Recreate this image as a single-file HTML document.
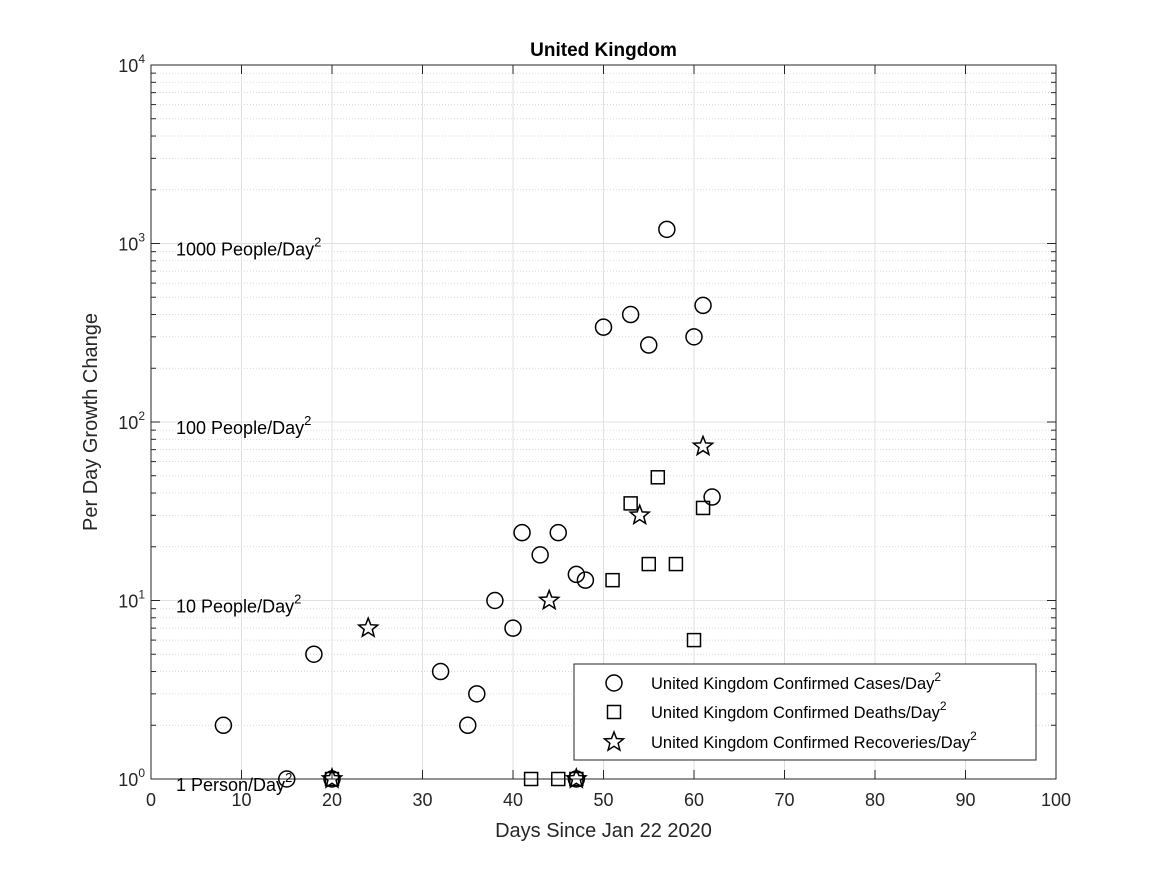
<!DOCTYPE html>
<html><head><meta charset="utf-8"><style>
body{margin:0;background:#fff;}
svg text{font-family:"Liberation Sans",sans-serif;}
</style></head><body>
<svg id="c" width="1167" height="875" xmlns="http://www.w3.org/2000/svg"></svg>
<script>
const casesX=[8,15,18,20,32,35,36,38,40,41,43,45,47,48,50,53,55,57,60,61,62,47];
const casesY=[2,1,5,1,4,2,3,10,7,24,18,24,14,13,340,400,270,1200,300,450,38,1];
const deathsX=[20,42,45,47,51,53,55,56,58,60,61];
const deathsY=[1,1,1,1,13,35,16,49,16,6,33];
const recX=[20,24,44,47,54,61];
const recY=[1,7,10,1,30,73];
const xTicks=[0,10,20,30,40,50,60,70,80,90,100];
const yExps=[0,1,2,3,4];
const annot=[["1 Person/Day",1],["10 People/Day",10],["100 People/Day",100],["1000 People/Day",1000]];
const L=151,R=1056,T=65,B=779;
const sx=v=>L+(v/100)*(R-L);
const sy=v=>B-Math.log10(v)/4*(B-T);
const svg=document.getElementById('c');
const NS="http://www.w3.org/2000/svg";
function el(tag,attrs,parent){const e=document.createElementNS(NS,tag);for(const k in attrs)e.setAttribute(k,attrs[k]);(parent||svg).appendChild(e);return e;}
const grid=el('g',{});


for(let d=0;d<4;d++)for(let m=2;m<10;m++){const y=sy(m*Math.pow(10,d));el('line',{x1:L,x2:R,y1:y,y2:y,stroke:'#ccc','stroke-width':0.7,'stroke-dasharray':'1,2'},grid);}
xTicks.forEach(t=>el('line',{x1:sx(t),x2:sx(t),y1:T,y2:B,stroke:'#e0e0e0','stroke-width':1},grid));
yExps.forEach(e=>el('line',{x1:L,x2:R,y1:sy(Math.pow(10,e)),y2:sy(Math.pow(10,e)),stroke:'#e0e0e0','stroke-width':1},grid));
const ax=el('rect',{x:L,y:T,width:R-L,height:B-T,fill:'none',stroke:'#262626','stroke-width':1});


xTicks.forEach(t=>{el('line',{x1:sx(t),x2:sx(t),y1:B,y2:B-9,stroke:'#262626'});el('line',{x1:sx(t),x2:sx(t),y1:T,y2:T+9,stroke:'#262626'});
const tx=el('text',{x:sx(t),y:B+27,'font-size':18,'text-anchor':'middle',fill:'#262626'});tx.textContent=t;

});
yExps.forEach(e=>{const y=sy(Math.pow(10,e));el('line',{x1:L,x2:L+9,y1:y,y2:y,stroke:'#262626'});el('line',{x1:R,x2:R-9,y1:y,y2:y,stroke:'#262626'});
const tx=el('text',{x:L-6,y:y+7,'font-size':18,'text-anchor':'end',fill:'#262626'});
tx.innerHTML='10<tspan font-size="12" dy="-9">'+e+'</tspan>';

});
for(let d=0;d<4;d++)for(let m=2;m<10;m++){const y=sy(m*Math.pow(10,d));el('line',{x1:L,x2:L+5,y1:y,y2:y,stroke:'#262626'});el('line',{x1:R,x2:R-5,y1:y,y2:y,stroke:'#262626'});}
annot.forEach(a=>{const tx=el('text',{x:176,y:sy(a[1])+12,'font-size':18,fill:'#000'});tx.innerHTML=a[0]+'<tspan font-size="13" dy="-9">2</tspan>';

});
const title=el('text',{x:(L+R)/2,y:56,'font-size':19,'font-weight':'bold','text-anchor':'middle'});title.textContent='United Kingdom';


const xl=el('text',{x:(L+R)/2,y:837,'font-size':20,'text-anchor':'middle',fill:'#262626'});xl.textContent='Days Since Jan 22 2020';


const yl=el('text',{x:0,y:0,'font-size':20,'text-anchor':'middle',fill:'#262626',transform:'translate(97,422) rotate(-90)'});yl.textContent='Per Day Growth Change';


function circle(x,y,p){return el('circle',{cx:x,cy:y,r:8,fill:'none',stroke:'#000','stroke-width':1.5},p);}
function square(x,y,p){return el('rect',{x:x-6.5,y:y-6.5,width:13,height:13,fill:'none',stroke:'#000','stroke-width':1.5},p);}
function star(x,y,p){let pts=[];for(let i=0;i<10;i++){const r=i%2?4.3:10;const a=-Math.PI/2+i*Math.PI/5;pts.push((x+r*Math.cos(a)).toFixed(1)+','+(y+r*Math.sin(a)).toFixed(1));}return el('polygon',{points:pts.join(' '),fill:'none',stroke:'#000','stroke-width':1.5},p);}
casesX.forEach((x,i)=>{const m=circle(sx(x),sy(casesY[i]));});
deathsX.forEach((x,i)=>{const m=square(sx(x),sy(deathsY[i]));});
recX.forEach((x,i)=>{const m=star(sx(x),sy(recY[i]));});
const lg=el('g',{});


el('rect',{x:574,y:664,width:462,height:96,fill:'#fff',stroke:'#262626','stroke-width':1},lg);
const items=[["United Kingdom Confirmed Cases/Day",circle,683],["United Kingdom Confirmed Deaths/Day",square,712],["United Kingdom Confirmed Recoveries/Day",star,742]];
items.forEach(it=>{it[1](614,it[2],lg);const tx=el('text',{x:651,y:it[2]+6,'font-size':16.5,fill:'#000'},lg);tx.innerHTML=it[0]+'<tspan font-size="12" dy="-8">2</tspan>';

});
</script>
</body></html>
